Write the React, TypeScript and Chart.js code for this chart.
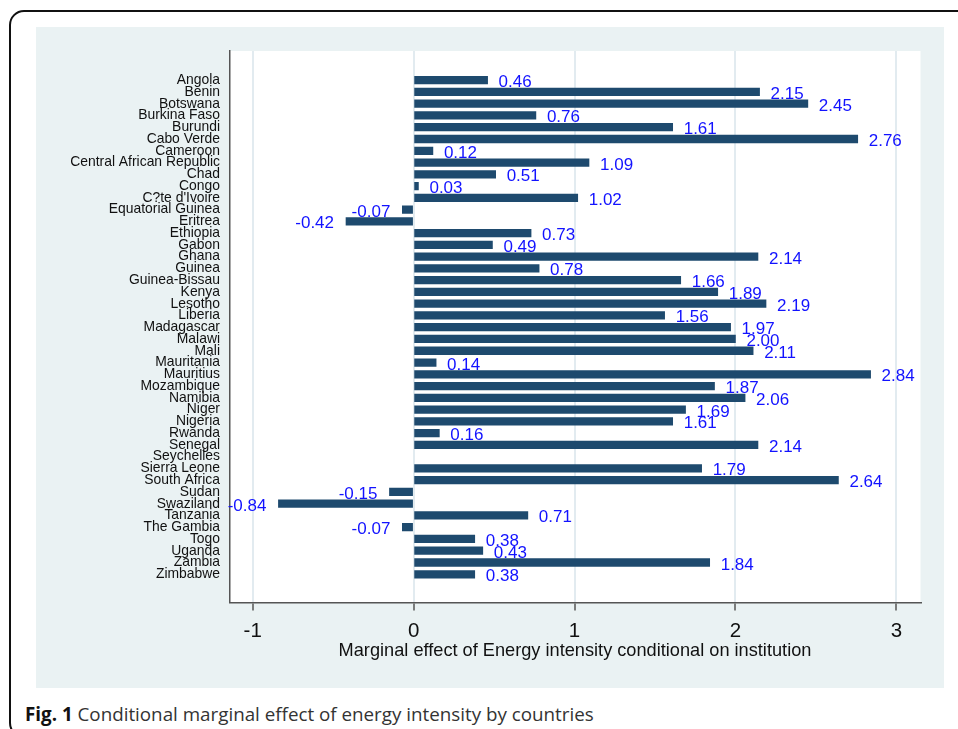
import React, { useEffect, useRef } from "react";
import { Chart, registerables } from "chart.js";

Chart.register(...registerables);

const countries: string[] = [
  "Angola", "Benin", "Botswana", "Burkina Faso", "Burundi", "Cabo Verde", "Cameroon",
  "Central African Republic", "Chad", "Congo", "C?te d'Ivoire", "Equatorial Guinea", "Eritrea",
  "Ethiopia", "Gabon", "Ghana", "Guinea", "Guinea-Bissau", "Kenya", "Lesotho", "Liberia",
  "Madagascar", "Malawi", "Mali", "Mauritania", "Mauritius", "Mozambique", "Namibia", "Niger",
  "Nigeria", "Rwanda", "Senegal", "Seychelles", "Sierra Leone", "South Africa", "Sudan",
  "Swaziland", "Tanzania", "The Gambia", "Togo", "Uganda", "Zambia", "Zimbabwe",
];

const marginalEffect: (number | null)[] = [
  0.46, 2.15, 2.45, 0.76, 1.61, 2.76, 0.12,
  1.09, 0.51, 0.03, 1.02, -0.07, -0.42,
  0.73, 0.49, 2.14, 0.78, 1.66, 1.89, 2.19, 1.56,
  1.97, 2.0, 2.11, 0.14, 2.84, 1.87, 2.06, 1.69,
  1.61, 0.16, 2.14, null, 1.79, 2.64, -0.15,
  -0.84, 0.71, -0.07, 0.38, 0.43, 1.84, 0.38,
];

const xTickValues: number[] = [-1, 0, 1, 2, 3];
const xTitle = "Marginal effect of Energy intensity conditional on institution";
const FONT = '"Liberation Sans", Arial, Helvetica, sans-serif';

const bgPlugin = {
  id: "bgPlugin",
  beforeDraw(chart: any) {
    const { ctx, width, height, chartArea } = chart;
    ctx.save();
    ctx.fillStyle = "#eaf2f3";
    ctx.fillRect(0, 0, width, height);
    ctx.fillStyle = "#ffffff";
    ctx.fillRect(chartArea.left, chartArea.top, chartArea.right - chartArea.left, chartArea.bottom - chartArea.top);
    ctx.restore();
  },
};

const labelPlugin = {
  id: "labelPlugin",
  afterDatasetsDraw(chart: any) {
    const { ctx } = chart;
    const meta = chart.getDatasetMeta(0);
    ctx.save();
    ctx.font = "17px " + FONT;
    ctx.fillStyle = "#1212ff";
    ctx.textBaseline = "alphabetic";
    meta.data.forEach((bar: any, i: number) => {
      const v = marginalEffect[i];
      if (v === null || v === undefined) return;
      const { x, y } = bar.getProps(["x", "y"], true);
      const txt = v.toFixed(2);
      if (v >= 0) {
        ctx.textAlign = "left";
        ctx.fillText(txt, x + 11, y + 7);
      } else {
        ctx.textAlign = "right";
        ctx.fillText(txt, x - 12, y + 7);
      }
    });
    ctx.restore();
  },
};

function BarChart() {
  const ref = useRef<HTMLCanvasElement | null>(null);
  useEffect(() => {
    if (!ref.current) return;
    const data = countries.map((_, i) => ({ x: marginalEffect[i], y: i }));
    const chart = new Chart(ref.current, {
      type: "bar",
      data: {
        datasets: [
          {
            data: data as any,
            backgroundColor: "#1e4a6e",
            borderWidth: 0,
            barThickness: 7.6,
          },
        ],
      },
      options: {
        indexAxis: "y",
        responsive: false,
        animation: false,
        events: [],
        layout: { padding: { left: 0, right: 23.5, top: 24, bottom: 25.5 } },
        plugins: { legend: { display: false }, tooltip: { enabled: false } },
        scales: {
          x: {
            type: "linear",
            min: -1.144,
            max: 3.15,
            offset: false,
            afterBuildTicks: (scale: any) => {
              scale.ticks = xTickValues.map((v) => ({ value: v }));
            },
            afterFit: (scale: any) => {
              scale.height = 60;
            },
            grid: {
              display: true,
              offset: false,
              color: "#e2ebf0",
              lineWidth: 2,
              drawTicks: true,
              tickLength: 8,
              tickColor: "#555555",
              tickWidth: 1.5,
            },
            border: { display: true, color: "#555555", width: 1.5 },
            ticks: {
              padding: 9,
              color: "#111111",
              font: { family: FONT, size: 20.5 },
              callback: (v: any) => String(v),
            },
            title: {
              display: true,
              text: xTitle,
              color: "#111111",
              font: { family: FONT, size: 18.2 },
              padding: { top: 0, bottom: 1 },
            },
          },
          y: {
            type: "linear",
            reverse: true,
            offset: false,
            min: -2.48,
            max: 44.4,
            afterBuildTicks: (scale: any) => {
              scale.ticks = countries.map((_, i) => ({ value: i }));
            },
            afterFit: (scale: any) => {
              scale.width = 193.5;
            },
            grid: { display: false, drawTicks: false, offset: false },
            border: { display: true, color: "#555555", width: 1.5 },
            ticks: {
              autoSkip: false,
              padding: 9.5,
              color: "#111111",
              font: { family: FONT, size: 13.9 },
              callback: (_v: any, i: number) => countries[i],
            },
          },
        },
      },
      plugins: [bgPlugin, labelPlugin],
    });
    return () => chart.destroy();
  }, []);
  return (
    <canvas
      ref={ref}
      width={908}
      height={661}
      style={{ position: "absolute", left: 36, top: 27, width: 908, height: 661 }}
    />
  );
}

export default function App() {
  return (
    <div
      style={{
        position: "absolute",
        left: 0,
        top: 0,
        width: 958,
        height: 729,
        overflow: "hidden",
        background: "#ffffff",
      }}
    >
      <div
        style={{
          position: "absolute",
          left: 9,
          top: 10,
          width: 1000,
          height: 728,
          border: "2.5px solid #111",
          borderRadius: 15,
          boxSizing: "border-box",
        }}
      />
      <BarChart />
      <div
        style={{
          position: "absolute",
          left: 25,
          top: 701,
          fontFamily: '"Open Sans", sans-serif',
          fontSize: 18.8,
          color: "#333",
          whiteSpace: "nowrap",
          lineHeight: "26px",
        }}
      >
        <span style={{ fontWeight: 700, color: "#111" }}>Fig. 1</span> Conditional marginal effect of energy intensity by countries
      </div>
    </div>
  );
}
